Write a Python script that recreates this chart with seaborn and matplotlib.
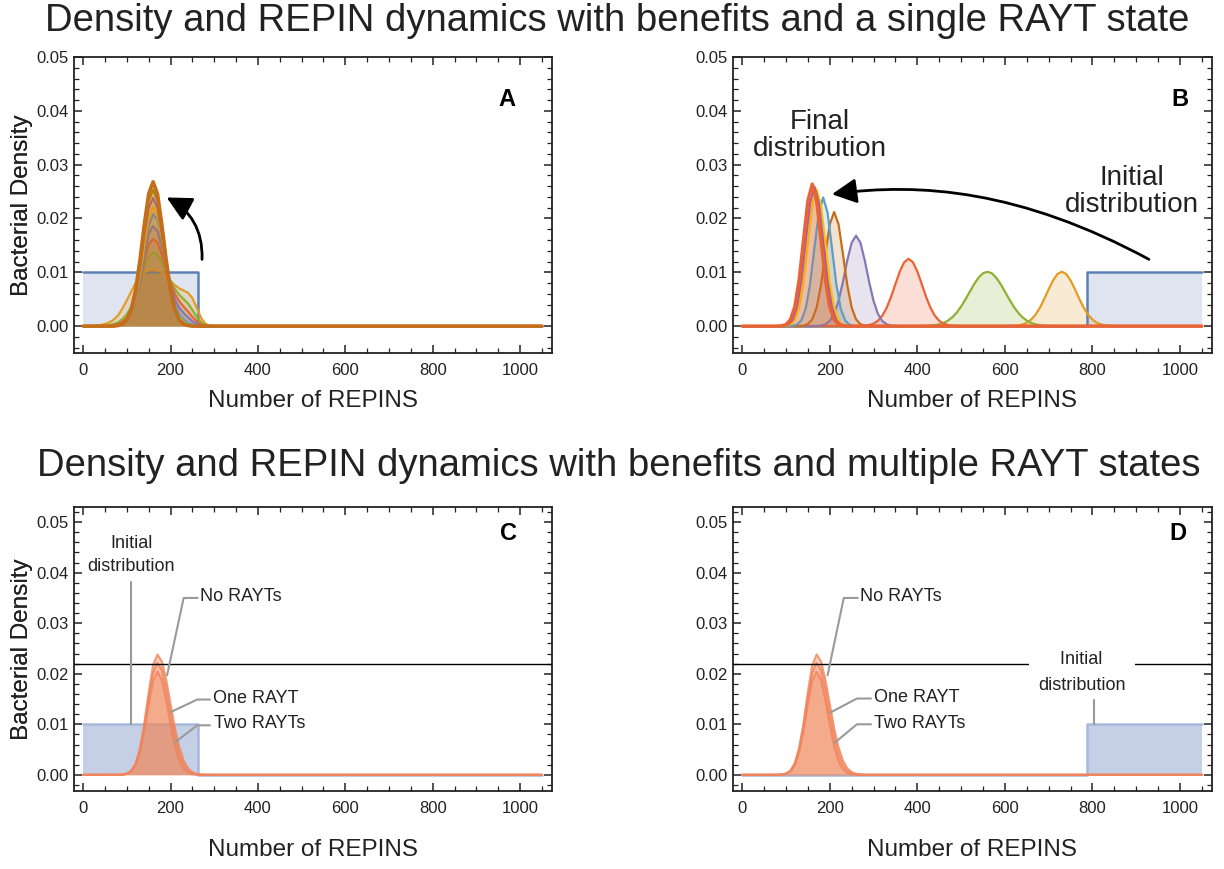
import seaborn as sns
import matplotlib.pyplot as plt
from matplotlib.patches import FancyArrowPatch
from matplotlib.path import Path
from matplotlib.ticker import MultipleLocator, FormatStrFormatter

# ---------------- data ----------------
x_max = 1050
uniform_height = 0.01
a_uniform_edges = [0, 262.5]      # initial distribution (A, C)
b_uniform_edges = [787.5, 1050]   # initial distribution (B, D)

# panel A - density curves on a grid starting at 0, step 10
a_start = 0
a_orange = [0, 0, 0, .0001, .0002, .0004, .0007, .0012, .0020, .0033, .0048, .0064, .0080, .0092, .0100, .0104,
            .0105, .0104, .0100, .0093, .0084, .0076, .0070, .0066, .0062, .0052, .0034, .0015, .0004, .0001, 0]
a_green = [0, 0, 0, 0, 0, 0, .0002, .0004, .0007, .0013, .0022, .0036, .0056, .0082, .0110, .0130,
           .0137, .0133, .0120, .0102, .0084, .0069, .0058, .0050, .0042, .0030, .0017, .0007, .0002, 0, 0]
a_red = [0, 0, 0, 0, 0, 0, 0, .0002, .0004, .0008, .0015, .0028, .0050, .0082, .0122, .0152,
         .0162, .0155, .0133, .0105, .0080, .0060, .0046, .0036, .0027, .0017, .0009, .0003, .0001, 0, 0]
a_purple = [0, 0, 0, 0, 0, 0, 0, 0, .0002, .0005, .0011, .0022, .0044, .0080, .0128, .0172,
            .0186, .0176, .0146, .0108, .0074, .0050, .0034, .0024, .0016, .0009, .0004, .0001, 0, 0, 0]
a_lightblue = [0, 0, 0, 0, 0, 0, 0, 0, .0002, .0005, .0011, .0024, .0048, .0086, .0138, .0186,
               .0208, .0198, .0160, .0112, .0070, .0040, .0022, .0012, .0006, .0003, .0001, 0, 0, 0, 0]
a_yellow = [0, 0, 0, 0, 0, 0, 0, 0, .0001, .0004, .0010, .0023, .0050, .0094, .0152, .0202,
            .0222, .0208, .0165, .0110, .0064, .0033, .0016, .0007, .0003, .0001, 0, 0, 0, 0, 0]
a_magenta = [0, 0, 0, 0, 0, 0, 0, 0, .0001, .0003, .0010, .0025, .0056, .0106, .0170, .0220,
             .0238, .0220, .0172, .0112, .0061, .0029, .0012, .0005, .0002, 0, 0, 0, 0, 0, 0]
a_olive = [0, 0, 0, 0, 0, 0, 0, 0, .0001, .0003, .0011, .0028, .0062, .0116, .0180, .0233,
           .0253, .0233, .0180, .0117, .0063, .0029, .0011, .0004, .0001, 0, 0, 0, 0, 0, 0]
a_final = [0, 0, 0, 0, 0, 0, 0, 0, .0001, .0004, .0012, .0031, .0067, .0123, .0189, .0246,
           .0268, .0246, .0189, .0123, .0067, .0031, .0012, .0004, .0001, 0, 0, 0, 0, 0, 0]

# panel B - each curve: (first REPIN count, densities every 10 REPINs)
b_orange = (600, [0, .00002, .00005, .00013, .0003, .00063, .00121, .00213, .00342, .00506, .00685, .00849, .00968,
                  .0101, .00968, .00849, .00685, .00506, .00342, .00213, .00121, .00063, .0003, .00013, .00005,
                  .00002, 0])
b_green = (400, [0, .00002, .00004, .00008, .00017, .00033, .00059, .00102, .00165, .00251, .00364, .00497, .00641,
                 .00783, .00902, .00982, .0101, .00982, .00902, .00783, .00641, .00497, .00364, .00251, .00165,
                 .00102, .00059, .00033, .00017, .00008, .00004, .00002, 0])
b_red = (260, [0, .00002, .00007, .00019, .00045, .00098, .00193, .0034, .00544, .00783, .01015, .01186, .0125,
               .01186, .01015, .00783, .00544, .0034, .00193, .00098, .00045, .00019, .00007, .00002, 0])
b_purple = (160, [0, .00003, .0001, .00033, .00094, .00227, .00467, .00818, .0122, .0155, .0168, .0155, .0122,
                  .00818, .00467, .00227, .00094, .00033, .0001, .00003, 0])
b_brown = (120, [0, .00001, .00008, .00036, .00125, .00346, .00763, .01346, .01893, .0212, .01893, .01346, .00763,
                 .00346, .00125, .00036, .00008, .00001, 0])
b_lightblue = (105, [0, .00005, .00027, .00105, .00323, .00776, .0145, .02109, .0239, .02109, .0145, .00776,
                     .00323, .00105, .00027, .00005, 0])
b_yellow = (90, [0, .00006, .00028, .00112, .00344, .00825, .0154, .02242, .0254, .02242, .0154, .00825, .00344,
                 .00112, .00028, .00006, 0])
b_magenta = (85, [0, .00006, .00029, .00114, .0035, .00841, .01571, .02286, .0259, .02286, .01571, .00841, .0035,
                  .00114, .00029, .00006, 0])
b_final = (80, [0, .00006, .00029, .00116, .00357, .00857, .01601, .0233, .0264, .0233, .01601, .00857, .00357,
                .00116, .00029, .00006, 0])

# panels C and D - final distributions for the RAYT states (grid from 80, step 10)
cd_start = 80
no_rayts = [.00001, .00006, .00023, .00079, .00224, .00524, .01016, .0163, .02166, .0238, .02242, .01875, .01395,
            .00919, .00538, .00281, .00129, .00053, .00019, .00006, .00002, 0]
one_rayt = [.00001, .00005, .00022, .00074, .00209, .00488, .00948, .01521, .0202, .0222, .02073, .01687, .01197,
            .00741, .004, .00188, .00077, .00028, .00009, .00002, .00001, 0]
two_rayts = [.00001, .00005, .0002, .00068, .00192, .00449, .00871, .01397, .01856, .0204, .01883, .01481, .00993,
             .00567, .00275, .00114, .0004, .00012, .00003, .00001, 0, 0]
ref_level = 0.0219

# Mathematica default palette
blue, orange, green, red = '#5E81B5', '#E19C24', '#8FB032', '#EB6235'
purple, brown, lightblue, yellow = '#8778B3', '#C56E1A', '#5D9EC7', '#FFBF00'
magenta, olive = '#A5609D', '#929600'
salmon, salmon_line = '#F08758', '#F0845C'
pale_blue, pale_blue_line = '#C5CFE5', '#A7B8DB'
ink = '#222222'

sns.set_style('ticks')
plt.rcParams['font.family'] = ['Liberation Sans', 'DejaVu Sans']

W, H = 1224, 869
fig = plt.figure(figsize=(W / 100, H / 100), dpi=100)


def px_rect(l, t, r, b):
    return [l / W, 1 - b / H, (r - l) / W, (b - t) / H]


ax_a = fig.add_axes(px_rect(74, 57, 552, 353))
ax_b = fig.add_axes(px_rect(733, 57, 1212, 353))
ax_c = fig.add_axes(px_rect(74, 507, 552, 791))
ax_d = fig.add_axes(px_rect(733, 507, 1212, 791))


def full_curve(start, values, step=10):
    xs = [0] + [start + step * i for i in range(len(values))] + [x_max]
    ys = [0] + list(values) + [0]
    return xs, ys


def draw_curve(ax, xs, ys, color, lw=1.6, fill=None, alpha=0.2, z=2, line_alpha=1):
    ax.fill_between(xs, ys, 0, color=fill or color, alpha=alpha, lw=0, zorder=z - 0.5)
    sns.lineplot(x=xs, y=ys, ax=ax, color=color, lw=lw, sort=False, estimator=None,
                 zorder=z, alpha=line_alpha)


def uniform_low():
    return [a_uniform_edges[0], a_uniform_edges[1], a_uniform_edges[1], x_max], \
           [uniform_height, uniform_height, 0, 0]


def uniform_high():
    return [0, b_uniform_edges[0], b_uniform_edges[0], b_uniform_edges[1]], \
           [0, 0, uniform_height, uniform_height]


def style_axes(ax, ylim):
    ax.set_xlim(-21, 1073)
    ax.set_ylim(*ylim)
    ax.xaxis.set_major_locator(MultipleLocator(200))
    ax.xaxis.set_minor_locator(MultipleLocator(50))
    ax.yaxis.set_major_locator(MultipleLocator(0.01))
    ax.yaxis.set_minor_locator(MultipleLocator(0.002))
    ax.yaxis.set_major_formatter(FormatStrFormatter('%.2f'))
    ax.tick_params(which='both', direction='in', top=True, right=True, labelsize=12,
                   color=ink, labelcolor=ink)
    ax.tick_params(axis='x', which='major', pad=7)
    ax.tick_params(axis='y', which='major', pad=4)
    ax.tick_params(which='major', length=6, width=1.1)
    ax.tick_params(which='minor', length=3.5, width=0.9)
    for s in ax.spines.values():
        s.set_visible(True)
        s.set_linewidth(1.3)
        s.set_color(ink)
    ax.set_xlabel('Number of REPINS', fontsize=17.5, color=ink, va='center')
    ax.set_ylabel('Bacterial Density', fontsize=17.5, color=ink, va='center')


def place_labels(ax, left, right, top, bottom, xlabel_y):
    ax.xaxis.set_label_coords((left + right) / 2 / W, 1 - xlabel_y / H, transform=fig.transFigure)
    ax.yaxis.set_label_coords(22 / W, 1 - (top + bottom) / 2 / H, transform=fig.transFigure)


def bezier_arrow(ax, pts):
    path = Path(pts, [Path.MOVETO, Path.CURVE4, Path.CURVE4, Path.CURVE4])
    arr = FancyArrowPatch(path=path, arrowstyle='-|>,head_length=0.75,head_width=0.38',
                          mutation_scale=20, lw=2, color='black', zorder=6)
    ax.add_patch(arr)


# ---------------- panel A ----------------
xs, ys = uniform_low()
draw_curve(ax_a, xs, ys, blue, lw=1.8)
for vals, col in [(a_orange, orange), (a_green, green), (a_red, red), (a_purple, purple),
                  (a_lightblue, lightblue), (a_yellow, yellow), (a_magenta, magenta), (a_olive, olive)]:
    xs, ys = full_curve(a_start, vals)
    draw_curve(ax_a, xs, ys, col)
xs, ys = full_curve(a_start, a_final)
draw_curve(ax_a, xs, ys, brown, lw=2.6, alpha=0.4, z=3)
style_axes(ax_a, (-0.005, 0.05))
place_labels(ax_a, 74, 552, 57, 353, 401)
ax_a.text(0.906, 0.855, 'A', transform=ax_a.transAxes, fontsize=17, fontweight='bold',
          ha='center', va='center', color='black')
bezier_arrow(ax_a, [(272, 0.0124), (274, 0.0178), (246, 0.0215), (191, 0.0239)])

# ---------------- panel B ----------------
xs, ys = uniform_high()
draw_curve(ax_b, xs, ys, blue, lw=1.8)
for (start, vals), col in [(b_orange, orange), (b_green, green), (b_red, red), (b_purple, purple),
                           (b_brown, brown), (b_lightblue, lightblue), (b_yellow, yellow),
                           (b_magenta, magenta)]:
    xs, ys = full_curve(start, vals)
    draw_curve(ax_b, xs, ys, col)
xs, ys = full_curve(*b_final)
draw_curve(ax_b, xs, ys, red, lw=2.4, z=3)
style_axes(ax_b, (-0.005, 0.05))
place_labels(ax_b, 733, 1212, 57, 353, 401)
ax_b.text(0.933, 0.855, 'B', transform=ax_b.transAxes, fontsize=17, fontweight='bold',
          ha='center', va='center', color='black')
ax_b.text(178, 0.0355, 'Final\ndistribution', fontsize=20, color=ink, ha='center', va='center',
          linespacing=1.05)
ax_b.text(890, 0.0251, 'Initial\ndistribution', fontsize=20, color=ink, ha='center', va='center',
          linespacing=1.05)
bezier_arrow(ax_b, [(929, 0.0124), (636, 0.02525), (407, 0.02674), (205, 0.0245)])

# ---------------- panels C and D ----------------
leader = '#9A9A9A'
for ax, uni, lab in [(ax_c, uniform_low(), 'C'), (ax_d, uniform_high(), 'D')]:
    xs, ys = uni
    ax.fill_between(xs, ys, 0, color=pale_blue, lw=0, zorder=1)
    sns.lineplot(x=xs, y=ys, ax=ax, color=pale_blue_line, lw=1.8, sort=False, estimator=None, zorder=1.2)
    for vals in [two_rayts, one_rayt, no_rayts]:
        xs, ys = full_curve(cd_start, vals)
        draw_curve(ax, xs, ys, salmon_line, lw=1.6, fill=salmon, alpha=0.32, z=2, line_alpha=0.8)
    ax.axhline(ref_level, color='black', lw=1.0, zorder=4)
    style_axes(ax, (-0.0032, 0.053))
    ax.text(0.908 if lab == 'C' else 0.929, 0.908, lab, transform=ax.transAxes, fontsize=17,
            fontweight='bold', ha='center', va='center', color='black')

place_labels(ax_c, 74, 552, 507, 791, 850)
place_labels(ax_d, 733, 1212, 507, 791, 850)

# callouts, panel C
ax_c.plot([110, 110], [0.0381, 0.0101], color=leader, lw=1.5, zorder=5)
ax_c.text(110, 0.0435, 'Initial\ndistribution', fontsize=13, color=ink, ha='center', va='center',
          linespacing=1.45)
for (tx, ty), pts, txt in [((268, 0.0352), [(262, 0.0350), (230, 0.0350), (192, 0.0197)], 'No RAYTs'),
                           ((297, 0.0152), [(290, 0.0149), (261, 0.0149), (200, 0.0124)], 'One RAYT'),
                           ((299, 0.0101), [(290, 0.0098), (261, 0.0098), (211, 0.0065)], 'Two RAYTs')]:
    ax_c.plot([p[0] for p in pts], [p[1] for p in pts], color=leader, lw=1.5, zorder=5)
    ax_c.text(tx, ty, txt, fontsize=13, color=ink, ha='left', va='center', zorder=6)

# callouts, panel D
ax_d.plot([803, 803], [0.0148, 0.0101], color=leader, lw=1.5, zorder=5)
ax_d.text(775, 0.0228, '      Initial      ', fontsize=13, color=ink, ha='center', va='center', zorder=6,
          bbox=dict(facecolor='white', edgecolor='none', boxstyle='square,pad=0.1'))
ax_d.text(777, 0.0176, 'distribution', fontsize=13, color=ink, ha='center', va='center', zorder=6)
for (tx, ty), pts, txt in [((270, 0.0352), [(264, 0.0350), (232, 0.0350), (195, 0.0197)], 'No RAYTs'),
                           ((300, 0.0153), [(294, 0.0151), (262, 0.0151), (201, 0.0123)], 'One RAYT'),
                           ((300, 0.0102), [(294, 0.0100), (262, 0.0100), (212, 0.0064)], 'Two RAYTs')]:
    ax_d.plot([p[0] for p in pts], [p[1] for p in pts], color=leader, lw=1.5, zorder=5)
    ax_d.text(tx, ty, txt, fontsize=13, color=ink, ha='left', va='center', zorder=6)

# titles
fig.text(617 / W, 1 - 21 / H, 'Density and REPIN dynamics with benefits and a single RAYT state',
         fontsize=27.5, color=ink, ha='center', va='center')
fig.text(619 / W, 1 - 466 / H, 'Density and REPIN dynamics with benefits and multiple RAYT states',
         fontsize=27.5, color=ink, ha='center', va='center')

fig.savefig('out.png', dpi=100)
